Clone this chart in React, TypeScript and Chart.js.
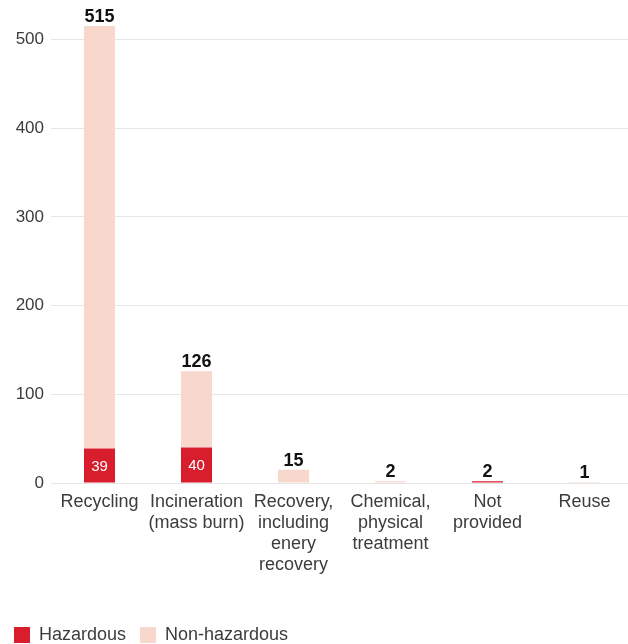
import React, { useEffect, useRef } from "react";
import { Chart, registerables } from "chart.js";

Chart.register(...registerables);

const categories: (string | string[])[] = [
  "Recycling",
  ["Incineration", "(mass burn)"],
  ["Recovery,", "including", "enery", "recovery"],
  ["Chemical,", "physical", "treatment"],
  ["Not", "provided"],
  "Reuse",
];
const hazardous = [39, 40, 0, 0, 2, 0];
const nonHazardous = [476, 86, 15, 2, 0, 1];
const yTicks = [0, 100, 200, 300, 400, 500];

const RED = "#d81e2c";
const PINK = "#f8d7cc";
const FONT = "'Liberation Sans', Arial, Helvetica, sans-serif";
const TEXT = "#3c3c3c";

const labelPlugin = {
  id: "barLabels",
  afterDatasetsDraw(chart: any) {
    const ctx = chart.ctx;
    const m0 = chart.getDatasetMeta(0);
    const m1 = chart.getDatasetMeta(1);
    ctx.save();
    categories.forEach((_, i) => {
      const total = hazardous[i] + nonHazardous[i];
      const b0 = m0.data[i];
      const b1 = m1.data[i];
      const topY = Math.min(b0.y, b1.y);
      ctx.fillStyle = "#111";
      ctx.font = `bold 18px ${FONT}`;
      ctx.textAlign = "center";
      ctx.textBaseline = "alphabetic";
      ctx.fillText(String(total), b0.x, topY - 4);
      if (hazardous[i] >= 10) {
        ctx.fillStyle = "#fff";
        ctx.font = `15px ${FONT}`;
        ctx.textBaseline = "middle";
        ctx.fillText(String(hazardous[i]), b0.x, (b0.y + b0.base) / 2 + 1);
      }
    });
    ctx.restore();
  },
};

export default function App() {
  const ref = useRef<HTMLCanvasElement | null>(null);
  useEffect(() => {
    if (!ref.current) return;
    const chart = new Chart(ref.current, {
      type: "bar",
      data: {
        labels: categories as any,
        datasets: [
          { label: "Hazardous", data: hazardous, backgroundColor: RED, borderWidth: 0 },
          { label: "Non-hazardous", data: nonHazardous, backgroundColor: PINK, borderWidth: 0 },
        ],
      },
      options: {
        responsive: false,
        animation: false,
        layout: { padding: { top: 8, left: 0, right: 0, bottom: 0 } },
        datasets: { bar: { barPercentage: 0.32, categoryPercentage: 1 } } as any,
        plugins: {
          tooltip: { enabled: false },
          legend: {
            position: "bottom",
            align: "start",
            labels: {
              boxWidth: 16,
              boxHeight: 16,
              padding: 14,
              color: TEXT,
              font: { family: FONT, size: 18 },
            },
          },
        },
        scales: {
          x: {
            stacked: true,
            grid: { display: false, drawTicks: false },
            border: { display: false },
            ticks: {
              color: TEXT,
              padding: 8,
              maxRotation: 0,
              autoSkip: false,
              font: { family: FONT, size: 18, lineHeight: 1.18 },
            },
            afterFit: (s: any) => {
              s.height = 129;
            },
          },
          y: {
            stacked: true,
            min: 0,
            max: 525,
            grid: { color: "#e6e6e6", lineWidth: 1, drawTicks: false },
            border: { display: false },
            afterBuildTicks: (s: any) => {
              s.ticks = yTicks.map((v) => ({ value: v }));
            },
            ticks: {
              color: TEXT,
              padding: 7,
              font: { family: FONT, size: 17 },
            },
            afterFit: (s: any) => {
              s.width = 51;
            },
          },
        },
      },
      plugins: [labelPlugin],
    });
    return () => chart.destroy();
  }, []);
  return (
    <div style={{ position: "fixed", left: 0, top: 0, width: 628, height: 644, overflow: "hidden", background: "#fff" }}>
      <canvas ref={ref} width={633} height={654} style={{ display: "block" }} />
    </div>
  );
}
